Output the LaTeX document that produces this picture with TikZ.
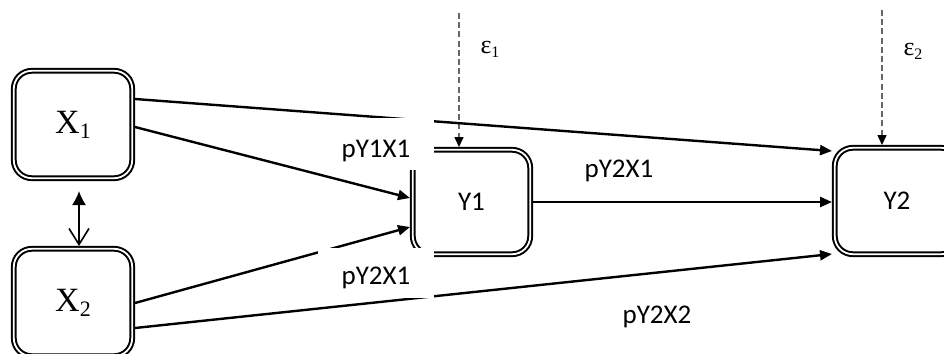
\documentclass[tikz,border=0pt]{standalone}
\usepackage{fontspec}
\setmainfont{Carlito}
\newfontfamily\serifX{Liberation Serif}
\usetikzlibrary{arrows.meta,calc}
\begin{document}
\begin{tikzpicture}[x=0.5pt,y=-0.5pt,
  varbox/.style={draw=black, line width=1pt, double=white, double distance=0.9pt,
    rounded corners=9pt, outer sep=1.4pt, inner sep=0pt, align=center},
  xvar/.style={varbox, minimum width=59.2pt, minimum height=53.7pt,
    font=\serifX\fontsize{17}{17}\selectfont},
  yvar/.style={varbox, font=\fontsize{13.5}{16}\selectfont},
  path/.style={draw=black, line width=1.2pt, -{Triangle[length=6pt,width=5pt]}},
  errarrow/.style={draw=black!60, line width=0.8pt, dash pattern=on 3pt off 1.6pt,
    -{Triangle[length=5pt,width=4.5pt,color=black]}},
  coef/.style={font=\fontsize{13.5}{16}\selectfont, anchor=base, inner sep=0pt},
  errlabel/.style={font=\serifX\fontsize{13}{13}\selectfont, inner sep=0pt}]
\useasboundingbox (0,0) rectangle (944,354);
\clip (0,0) rectangle (944,354);

% boxes
\node[xvar] (X1) at (73,124.5) {X\raisebox{-2.5pt}{\fontsize{11}{11}\selectfont 1}};
\node[xvar] (X2) at (73,302.5) {X\raisebox{-2.5pt}{\fontsize{11}{11}\selectfont 2}};
\node[yvar, minimum width=58.7pt, minimum height=52.2pt] (Y1) at (471.5,202) {Y1};
\node[yvar, minimum width=62.2pt, minimum height=53.2pt] (Y2) at (897,201) {Y2};

% error terms
\coordinate (e1) at (459,13);
\coordinate (e2) at (882,10);
\draw[errarrow] (e1) -- (e1 |- Y1.north);
\draw[errarrow] (e2) -- (e2 |- Y2.north);
\node[errlabel] (le1) at (490,49) {ε\raisebox{-2pt}{\fontsize{8}{8}\selectfont 1}};
\node[errlabel] (le2) at (913,51) {ε\raisebox{-2pt}{\fontsize{8}{8}\selectfont 2}};

% correlation
\draw[line width=0.8pt, {Latex[length=7pt,width=7pt]}-{Straight Barb[length=8pt,width=10pt]},
  shorten <=5pt] ($(X1.south)+(6,0)$) -- ($(X2.north)+(6,0)$);

% paths
\draw[path] ($(X1.east)+(0,-25.5)$) -- ($(Y2.west)+(0,-50)$);
\draw[path] ($(X1.east)+(0,2.5)$) -- ($(Y1.west)+(0,-4)$);
\draw[path] ($(X2.east)+(0,0.5)$) -- ($(Y1.west)+(0,25)$);
\draw[path] ($(X2.east)+(0,25.5)$) -- ($(Y2.west)+(0,53)$);
\draw[path] (Y1.east) -- (Y1.east -| Y2.west);

% label backgrounds
\fill[white] (318,118) rectangle (434,170);
\fill[white] (318,248) rectangle (434,298);

% coefficients
\node[coef] (c1) at (376,157) {pY1X1};
\node[coef] (c2) at (376,284) {pY2X1};
\node[coef] (c3) at (619,177) {pY2X1};
\node[coef] (c4) at (657,323) {pY2X2};
\end{tikzpicture}
\end{document}
